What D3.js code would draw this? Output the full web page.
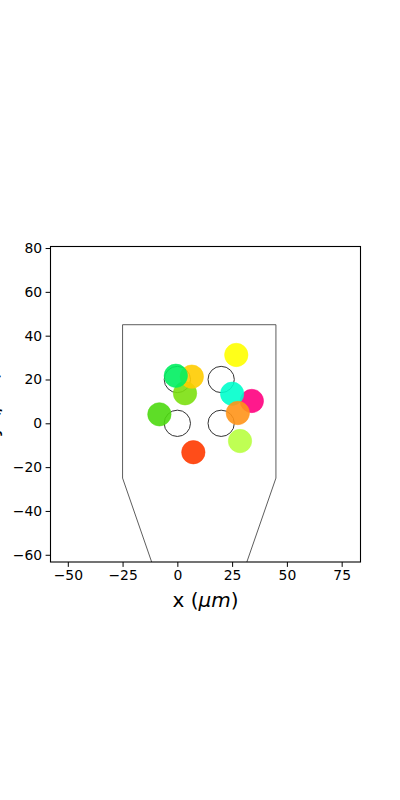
<!DOCTYPE html>
<html>
<head>
<meta charset="utf-8">
<script src="https://cdn.jsdelivr.net/npm/d3@7"></script>
<style>
  body { margin: 0; background: #fff; }
  text { font-family: "DejaVu Sans", sans-serif; }
</style>
</head>
<body>
<script>
// data
var xTicks = [-50, -25, 0, 25, 50, 75];
var yTicks = [-60, -40, -20, 0, 20, 40, 60, 80];

// outline of the channel
var outline = [[1, -100], [-25, -25], [-25, 45], [45, 45], [45, -25], [19, -100]];

// reference sites (open circles)
var sitesX = [0, 20, 0, 20];
var sitesY = [0, 0, 20, 20];

// measured points, in draw order
var ptX = [3.5, 6.6, -0.7, -8.2, 26.9, 34.0, 25.0, 27.6, 28.6, 7.3];
var ptY = [13.7, 21.3, 21.7, 4.1, 31.2, 10.2, 13.5, 4.7, -8.1, -13.2];
var ptColor = ["#7ce010", "#ffcc00", "#00f060", "#4cd910", "#ffff00",
               "#ff0080", "#00ffcc", "#ff9418", "#b8ff40", "#ff3a00"];

var W = 400, H = 800;
var margin = { left: 50.5, right: 39.5, top: 246.5, bottom: 238 };

var x = d3.scaleLinear().domain([-57.9, 83.6]).range([margin.left, W - margin.right]);
var y = d3.scaleLinear().domain([-63.3, 80.7]).range([H - margin.bottom, margin.top]);

var svg = d3.select("body").append("svg")
  .attr("width", W)
  .attr("height", H);

svg.append("defs").append("clipPath")
  .attr("id", "clip")
  .append("rect")
  .attr("x", x.range()[0])
  .attr("y", y.range()[1])
  .attr("width", x.range()[1] - x.range()[0])
  .attr("height", y.range()[0] - y.range()[1]);

var plot = svg.append("g").attr("clip-path", "url(#clip)");

var line = d3.line()
  .x(function(d) { return x(d[0]); })
  .y(function(d) { return y(d[1]); });

plot.append("path")
  .attr("d", line(outline))
  .attr("fill", "none")
  .attr("stroke", "#333")
  .attr("stroke-width", 0.8);

var rPx = x(6) - x(0);

plot.selectAll(".site")
  .data(sitesX)
  .enter().append("circle")
  .attr("class", "site")
  .attr("cx", function(d) { return x(d); })
  .attr("cy", function(d, i) { return y(sitesY[i]); })
  .attr("r", rPx)
  .attr("fill", "none")
  .attr("stroke", "#333")
  .attr("stroke-width", 1);

plot.selectAll(".dot")
  .data(ptX)
  .enter().append("circle")
  .attr("class", "dot")
  .attr("cx", function(d) { return x(d); })
  .attr("cy", function(d, i) { return y(ptY[i]); })
  .attr("r", 11.7)
  .attr("fill", function(d, i) { return ptColor[i]; })
  .attr("fill-opacity", 0.9)
  .attr("stroke", function(d, i) { return ptColor[i]; })
  .attr("stroke-opacity", 0.5)
  .attr("stroke-width", 1);

// axes
var xAxis = d3.axisBottom(x).tickValues(xTicks).tickSize(4.9).tickPadding(3.5)
  .tickFormat(function(d) { return d < 0 ? "\u2212" + Math.abs(d) : d; });
var yAxis = d3.axisLeft(y).tickValues(yTicks).tickSize(4.9).tickPadding(3.5)
  .tickFormat(function(d) { return d < 0 ? "\u2212" + Math.abs(d) : d; });

var gx = svg.append("g")
  .attr("transform", "translate(0," + y.range()[0] + ")")
  .call(xAxis);
var gy = svg.append("g")
  .attr("transform", "translate(" + x.range()[0] + ",0)")
  .call(yAxis);

[gx, gy].forEach(function(g) {
  g.select(".domain").remove();
  g.selectAll("line").attr("stroke", "#000").attr("stroke-width", 1);
  g.selectAll("text")
    .attr("font-family", "DejaVu Sans")
    .attr("font-size", 13.9)
    .attr("fill", "#000");
});

// frame
svg.append("rect")
  .attr("x", x.range()[0])
  .attr("y", y.range()[1])
  .attr("width", x.range()[1] - x.range()[0])
  .attr("height", y.range()[0] - y.range()[1])
  .attr("fill", "none")
  .attr("stroke", "#000")
  .attr("stroke-width", 1.1);

// labels
var xl = svg.append("text")
  .attr("x", (x.range()[0] + x.range()[1]) / 2)
  .attr("y", 607)
  .attr("text-anchor", "middle")
  .attr("font-size", 20);
xl.append("tspan").text("x (");
xl.append("tspan").attr("font-style", "italic").text("\u03bcm");
xl.append("tspan").text(")");

// y label sits mostly outside the left edge, as in the original figure
var yl = svg.append("text")
  .attr("transform", "translate(-2," + (y.range()[0] + y.range()[1]) / 2 + ") rotate(-90)")
  .attr("text-anchor", "middle")
  .attr("font-size", 20);
yl.append("tspan").text("y (");
yl.append("tspan").attr("font-style", "italic").text("\u03bcm");
yl.append("tspan").text(")");
</script>
</body>
</html>
